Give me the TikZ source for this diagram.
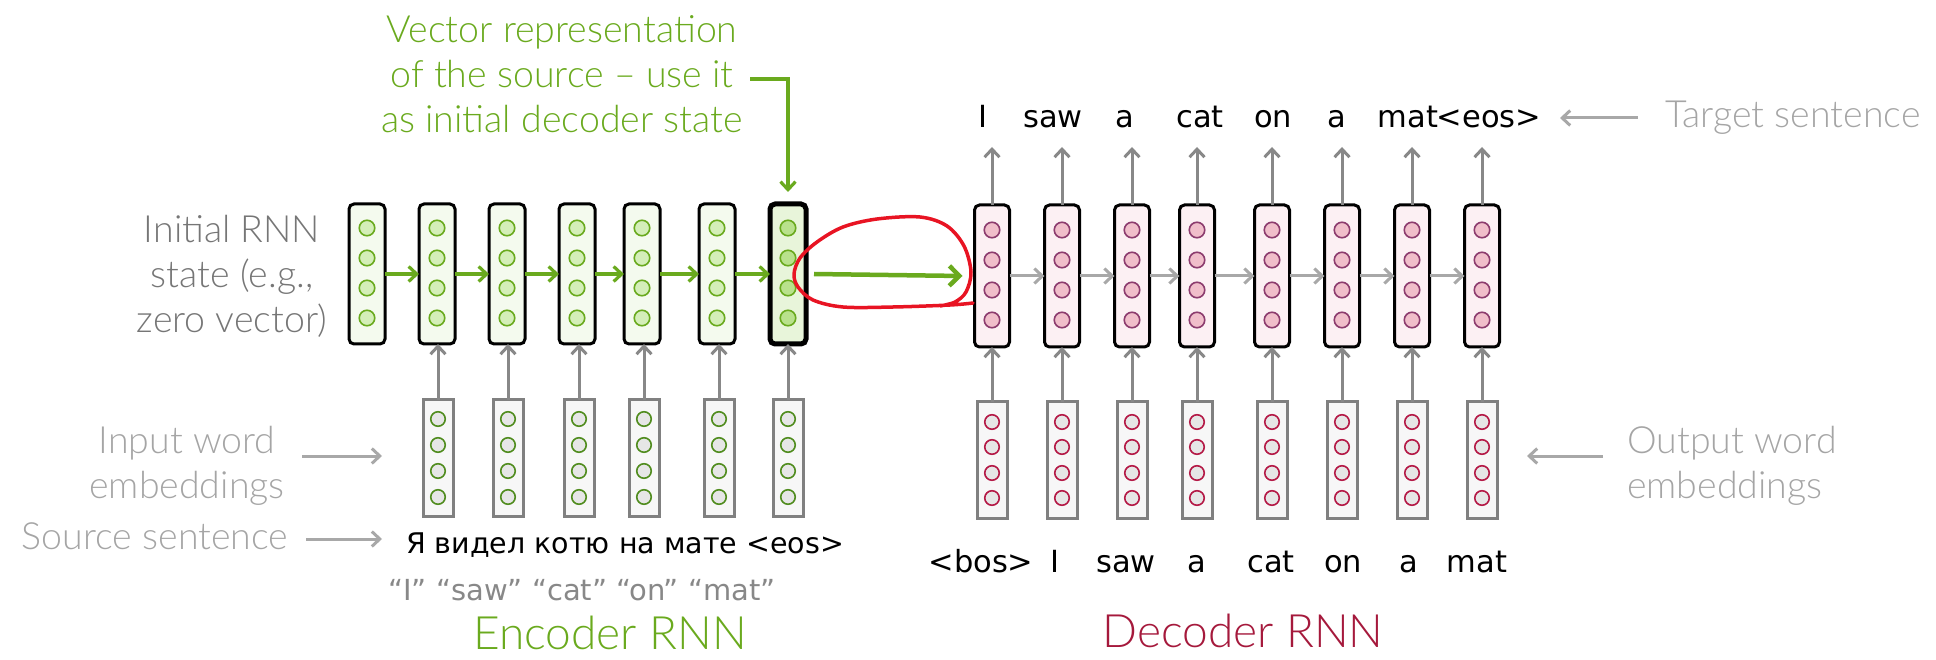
\documentclass[tikz,border=0pt]{standalone}
\usepackage{fontspec}
\setmainfont{Lato Light}
\newfontfamily\comic{DejaVu Sans}
\usetikzlibrary{arrows.meta,calc}
\definecolor{encgreen}{RGB}{106,170,30}
\definecolor{encfill}{RGB}{244,250,238}
\definecolor{encfilllast}{RGB}{232,245,218}
\definecolor{enccircfill}{RGB}{212,238,184}
\definecolor{enccirclast}{RGB}{185,225,140}
\definecolor{decfill}{RGB}{252,240,243}
\definecolor{deccircfill}{RGB}{240,190,202}
\definecolor{deccircdraw}{RGB}{140,60,110}
\definecolor{embfill}{RGB}{247,247,247}
\definecolor{embdraw}{RGB}{128,128,128}
\definecolor{embcirc}{RGB}{230,230,230}
\definecolor{embgreen}{RGB}{80,140,30}
\definecolor{embred}{RGB}{180,25,70}
\definecolor{arrgray}{RGB}{136,136,136}
\definecolor{arrlight}{RGB}{168,168,168}
\definecolor{lbldark}{RGB}{118,118,118}
\definecolor{lbllight}{RGB}{165,165,165}
\definecolor{decred}{RGB}{165,25,60}
\definecolor{loopred}{RGB}{232,20,35}
\begin{document}
\begin{tikzpicture}[x=1pt,y=-1pt,
  statebox/.style={rectangle,rounded corners=5pt,draw=black,line width=3pt,minimum width=36pt,minimum height=140pt,inner sep=0pt,outer sep=0pt},
  encstate/.style={statebox,fill=encfill},
  enclast/.style={statebox,fill=encfilllast,line width=5pt},
  decstate/.style={statebox,fill=decfill,minimum width=35pt,minimum height=142pt},
  embbox/.style={rectangle,draw=embdraw,line width=3pt,fill=embfill,minimum width=30pt,minimum height=117pt,inner sep=0pt,outer sep=0pt},
  unit/.style={circle,inner sep=0pt,minimum size=15.5pt,line width=1.6pt},
  encunit/.style={unit,draw=encgreen,fill=enccircfill},
  enclastunit/.style={unit,draw=encgreen,fill=enccirclast},
  decunit/.style={unit,draw=deccircdraw,fill=deccircfill},
  embunit/.style={circle,inner sep=0pt,minimum size=14.5pt,line width=1.6pt,fill=embcirc},
  xunit/.style={embunit,draw=embgreen},
  yunit/.style={embunit,draw=embred},
  garr/.style={draw=arrgray,line width=3pt,-{Straight Barb[length=8pt,width=15pt]}},
  larr/.style={draw=arrlight,line width=3pt,-{Straight Barb[length=8pt,width=15pt]}},
  grarr/.style={draw=encgreen,line width=3.2pt,-{Straight Barb[length=8pt,width=15pt]}},
  bigarr/.style={draw=encgreen,line width=4.5pt,-{Straight Barb[length=10pt,width=20pt]}},
  lbl/.style={font=\fontsize{37.5}{45}\selectfont,inner sep=0pt},
  word/.style={font=\comic\fontsize{30.5}{36}\selectfont,anchor=base,inner sep=0pt},
]
\useasboundingbox (0,0) rectangle (1936,660);

% ---------- encoder states ----------
\foreach \i/\x in {0/367,1/437,2/507,3/577,4/642,5/717}{
  \node[encstate] (e\i) at (\x,274) {};
  \foreach \k/\y in {1/228,2/258,3/288,4/318}
    \node[encunit] (e\i u\k) at (\x,\y) {};
}
\node[enclast] (e6) at (788,274) {};
\foreach \k/\y in {1/228,2/258,3/288,4/318}
  \node[enclastunit] (e6u\k) at (788,\y) {};

\foreach \i/\j in {0/1,1/2,2/3,3/4,4/5,5/6}
  \draw[grarr] (e\i) -- (e\j);

% ---------- encoder embeddings ----------
\foreach \i/\x in {1/438,2/508,3/579,4/644,5/719,6/788}{
  \node[embbox] (x\i) at (\x,458) {};
  \foreach \k/\y in {1/419,2/445,3/471,4/497}
    \node[xunit] (x\i u\k) at (\x,\y) {};
  \draw[garr] (x\i.north) -- (x\i.north |- e\i.south);
}

% ---------- decoder states ----------
\foreach \i/\x in {0/992,1/1062,2/1132,3/1197,4/1272,5/1342,6/1412,7/1482}{
  \node[decstate] (d\i) at (\x,276) {};
  \foreach \k/\y in {1/230,2/260,3/290,4/320}
    \node[decunit] (d\i u\k) at (\x,\y) {};
  \node[embbox] (y\i) at (\x,460) {};
  \foreach \k/\y in {1/422,2/447,3/473,4/498}
    \node[yunit] (y\i u\k) at (\x,\y) {};
  \coordinate (o\i) at (\x,147);
  \draw[garr] (d\i.north) -- (o\i);
  \draw[garr] (y\i.north) -- (d\i.south);
}
\foreach \i/\j in {0/1,1/2,2/3,3/4,4/5,5/6,6/7}
  \draw[larr] (d\i) -- (d\j);

% ---------- encoder -> decoder ----------
\draw[bigarr] ([xshift=8pt]e6.east) -- ([xshift=-12pt]d0.west);
\draw[loopred,line width=3.5pt,line cap=round,line join=round]
  plot[smooth,tension=0.55] coordinates {(973,303) (950,305) (893,307) (843,307) (813,300) (798,287) (794,274) (800,258) (817,242) (843,227) (877,219) (920,217) (947,226) (964,246) (971,272) (966,292) (955,302) (940,306)};

% ---------- texts ----------
\node[lbl,text=lbldark,align=center] (initlbl) at (232,276) {Initial RNN\\state (e.g.,\\zero vector)};
\node[lbl,text=lbllight,align=center] (inlbl) at (187,466) {Input word\\embeddings};
\node[lbl,text=lbllight,anchor=base] (srclbl) at (155,549) {Source sentence};
\coordinate (inA) at (302,456); \coordinate (inB) at (382,456);
\draw[larr] (inA) -- (inB);
\coordinate (srcA) at (306,539); \coordinate (srcB) at (382,539);
\draw[larr] (srcA) -- (srcB);

\node[lbl,text=lbllight,anchor=base] (tgtlbl) at (1793,128) {Target sentence};
\coordinate (tgA) at (1638,118); \coordinate (tgB) at (1560,118);
\draw[larr] (tgA) -- (tgB);
\node[lbl,text=lbllight,align=left,anchor=west] (outlbl) at (1627,466) {Output word\\embeddings};
\coordinate (ouA) at (1603,456); \coordinate (ouB) at (1527,456);
\draw[larr] (ouA) -- (ouB);

\node[lbl,text=encgreen,align=center] (veclbl) at (562,74) {Vector representation\\of the source -- use it\\as initial decoder state};
\coordinate (vecA) at (750,79);
\draw[grarr] (vecA) -| ([yshift=12pt]e6.north);

\node[word,font=\comic\fontsize{28.5}{34}\selectfont] (src) at (625,553) {Я видел котю на мате <eos>};
\node[word,font=\comic\fontsize{29}{34}\selectfont,text=arrgray] (gloss) at (582,600) {“I” “saw” “cat” “on” “mat”};

\foreach \n/\x/\t in {0/983/I,1/1053/saw,2/1125/a,3/1200/cat,4/1273/on,5/1337/a,6/1408/mat,7/1489/<eos>}
  \node[word] (w\n) at (\x,128) {\t};
\foreach \n/\x/\t in {0/981/<bos>,1/1055/I,2/1126/saw,3/1197/a,4/1271/cat,5/1343/on,6/1409/a,7/1477/mat}
  \node[word] (v\n) at (\x,572) {\t};

\node[font=\fontsize{46}{50}\selectfont,text=encgreen,anchor=base,inner sep=0pt] (enclbl) at (610,649) {Encoder RNN};
\node[font=\fontsize{46}{50}\selectfont,text=decred,anchor=base,inner sep=0pt] (declbl) at (1243,647) {Decoder RNN};
\end{tikzpicture}
\end{document}
